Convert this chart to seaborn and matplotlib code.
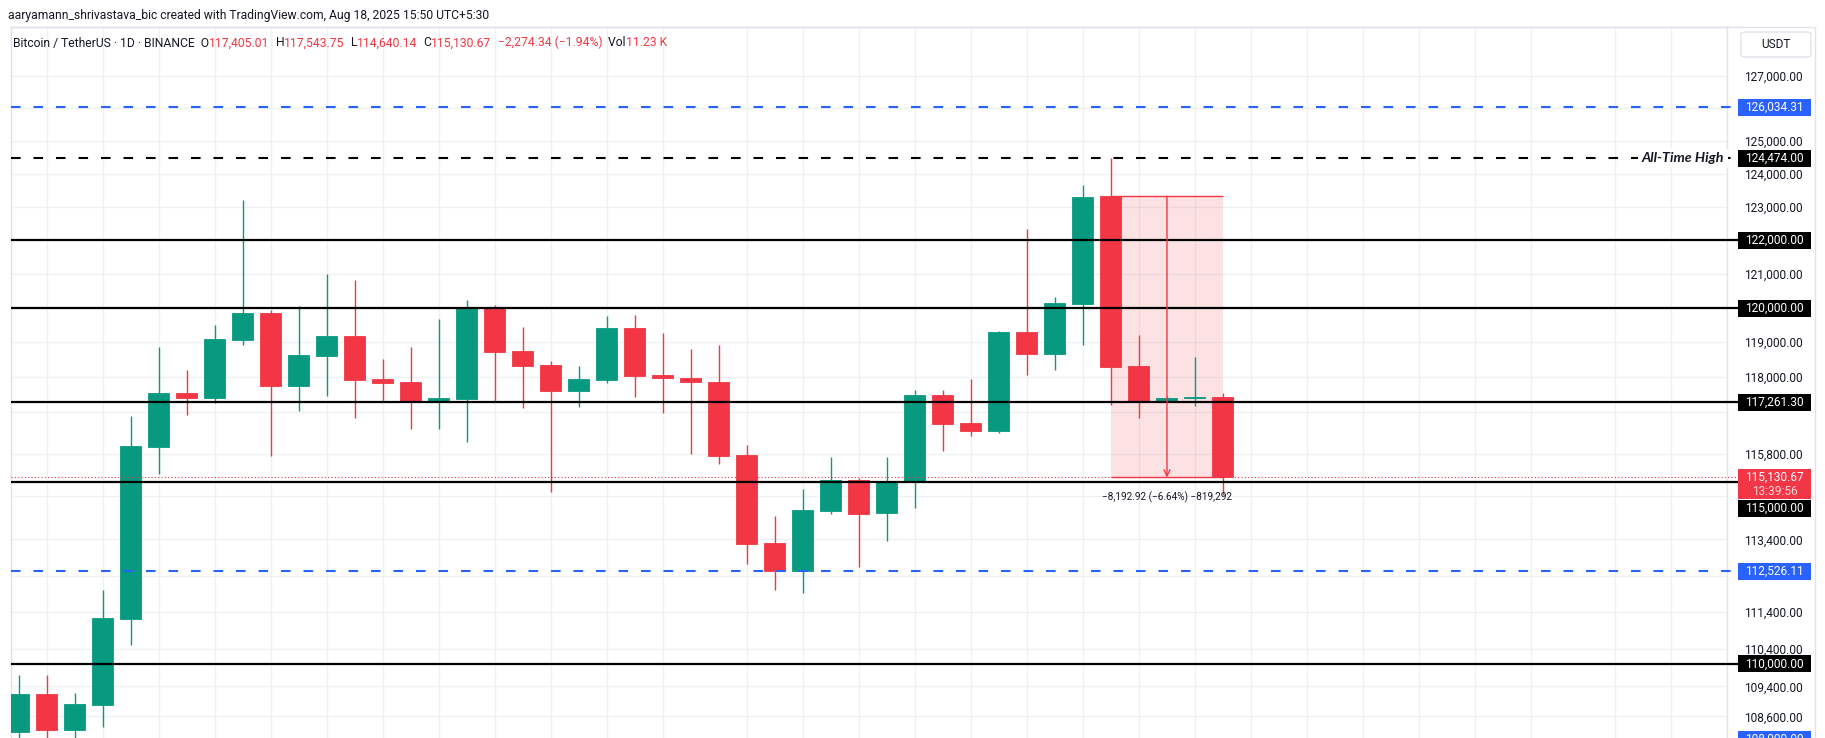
import numpy as np
import pandas as pd
import seaborn as sns
import matplotlib
matplotlib.use("Agg")
import matplotlib.pyplot as plt
import matplotlib.transforms as mtransforms
from matplotlib import font_manager
from matplotlib.patches import FancyBboxPatch, Rectangle
from matplotlib.lines import Line2D
from matplotlib.text import Text
from matplotlib.ticker import FixedLocator, NullLocator, FuncFormatter

# === Daily candles, BTC/USDT (Binance), 44 sessions ending Aug 18, 2025 ===
opens = [108190, 109200, 108240, 108900, 111220, 115990, 117530, 117390, 119070, 119850,
         117730, 118600, 119180, 117940, 117850, 117300, 117360, 120000, 118750, 118340,
         117590, 117910, 119420, 118050, 117960, 117850, 115770, 113300, 112530, 114190,
         115060, 114140, 115000, 117480, 116670, 116450, 119300, 118660, 120120, 123323.59,
         118310, 117300, 117390, 117405.01]
highs = [109700, 109700, 109220, 112000, 116870, 118860, 118200, 119500, 123210, 119940,
         120060, 121000, 120820, 118510, 118860, 119680, 120240, 120090, 119440, 118460,
         118310, 119770, 119800, 119270, 118800, 118920, 116050, 114050, 114810, 115710,
         115120, 115710, 117620, 117620, 117940, 119330, 122340, 120320, 123660, 124474.00,
         119210, 117450, 118570, 117543.75]
lows = [107750, 107550, 107850, 108320, 110510, 115230, 116900, 117250, 118920, 115740,
        117020, 117450, 116820, 117300, 116500, 116500, 116130, 117270, 117100, 114720,
        117130, 117820, 117420, 116960, 115790, 115510, 112720, 112010, 111930, 114110,
        112640, 113360, 114280, 115880, 116300, 116400, 118050, 118200, 118920, 117190,
        116820, 117240, 117160, 114640.14]
closes = [109200, 108240, 108930, 111240, 116020, 117530, 117390, 119100, 119850, 117730,
          118630, 119180, 117910, 117820, 117300, 117390, 120000, 118720, 118310, 117590,
          117940, 119420, 118020, 117960, 117850, 115740, 113270, 112530, 114220, 115060,
          114110, 115000, 117480, 116650, 116450, 119300, 118660, 120150, 123300, 118280,
          117300, 117390, 117405.01, 115130.67]

# === Drawn levels ===
black_levels = [122000.00, 120000.00, 117261.30, 115000.00, 110000.00]
blue_levels = [126034.31, 112526.11, 108000.00]
ath_level = 124474.00
ath_text = "All-Time High"

# === Price scale / grid ===
grid_prices = [127000, 126000, 125000, 124000, 123000, 122000, 121000, 120000, 119000, 118000,
               117000, 115800, 114600, 113400, 112400, 111400, 110400, 109400, 108600]
label_prices = [127000, 125000, 124000, 123000, 121000, 119000, 118000, 115800, 113400,
                111400, 110400, 109400, 108600]
grid_days = [1, 3, 5, 7, 9, 11, 13, 15, 17, 19, 21, 23, 26, 28, 30, 32, 34, 36, 38, 40,
             42, 44, 46, 48, 50, 52, 54, 57, 59]

# === Measure tool (from the ATH day open to the last close) ===
measure_from, measure_to = 39, 43
countdown = "13:39:56"
volume_txt = "11.23 K"
header_txt = "aaryamann_shrivastava_bic created with TradingView.com, Aug 18, 2025 15:50 UTC+5:30"
symbol_txt = "Bitcoin / TetherUS \u00b7 1D \u00b7 BINANCE"

GREEN, RED, BLUE, INK = "#089981", "#F23645", "#2962FF", "#131722"
GRID, BORDER = "#EEF0F4", "#E0E3EB"

df = pd.DataFrame({"open": opens, "high": highs, "low": lows, "close": closes})
df["idx"] = np.arange(len(df))
df["color"] = np.where(df["close"] >= df["open"], GREEN, RED)

sns.set_theme(style="white")
plt.rcParams['font.family'] = ['Roboto', 'DejaVu Sans']
installed = {f.name for f in font_manager.fontManager.ttflist}
narrow = ['Liberation Sans Narrow', 'Roboto'] if 'Liberation Sans Narrow' in installed else ['Roboto', 'DejaVu Sans']

W, H = 1825, 738
fig = plt.figure(figsize=(W / 100, H / 100), dpi=100)
ax = fig.add_axes([10.5 / W, 0, (1727 - 10.5) / W, (H - 27) / H])
ax.set_yscale('log')
ax.set_ylim(108027, 128533)
ax.set_xlim(-0.3, 61.0)

# grid
ax.hlines(grid_prices, 0, 1, transform=ax.get_yaxis_transform(), color=GRID, lw=1, zorder=0)
ax.vlines(grid_days, 0, 1, transform=ax.get_xaxis_transform(), color=GRID, lw=1, zorder=0)

# measure box
m_top, m_bot = df["open"][measure_from], df["close"][measure_to]
ax.fill_between([measure_from, measure_to], m_bot, m_top, color=RED, alpha=0.14, lw=0, zorder=1)
ax.hlines([m_top, m_bot], measure_from, measure_to, color=RED, lw=1, zorder=1.5)
mid = (measure_from + measure_to) / 2
ax.annotate("", xy=(mid, m_bot), xytext=(mid, m_top),
            arrowprops=dict(arrowstyle="->", color=RED, lw=1, mutation_scale=11, shrinkA=0, shrinkB=0),
            zorder=6)
diff = m_bot - m_top
m_txt = f"{diff:,.2f} ({diff / m_top * 100:.2f}%) {diff * 100:,.0f}".replace("-", "\u2212")
ax.annotate(m_txt, xy=(mid, m_bot), xytext=(0, -14), textcoords="offset points",
            ha="center", va="center", fontsize=7.2, color=INK, family=narrow, zorder=6)

# candles
ax.vlines(df["idx"], df["low"], df["high"], color=df["color"], lw=1, zorder=3)
ax.bar(df["idx"], (df["close"] - df["open"]).abs(), bottom=df[["open", "close"]].min(axis=1),
       width=0.75, color=df["color"], edgecolor=df["color"], linewidth=0.6, zorder=4)

# horizontal levels (run into the price scale up to the tags)
ext = 1.0064
ytr = ax.get_yaxis_transform()
ax.hlines(black_levels, 0, ext, transform=ytr, color="black", lw=1.6, zorder=5, clip_on=False)
ax.hlines(blue_levels, 0, ext, transform=ytr, color=BLUE, lw=1.5, zorder=5, clip_on=False,
          linestyles=[(0, (4.6, 6.2))])
ax.hlines([ath_level], 0, ext, transform=ytr, color="black", lw=1.5, zorder=5, clip_on=False,
          linestyles=[(0, (4.6, 6.2))])
ax.hlines([closes[-1]], 0, ext, transform=ytr, color=RED, lw=0.8, zorder=5, clip_on=False,
          linestyles=[(0, (1, 2))])
ax.text(0.9985, ath_level, ath_text, transform=ytr, ha="right", va="center", fontsize=10.3,
        fontweight="bold", fontstyle="italic", family=['Lato', 'DejaVu Sans'], color=INK, zorder=7,
        bbox=dict(boxstyle="square,pad=0.25", fc="white", ec="none"))

# price scale
ax.yaxis.tick_right()
ax.yaxis.set_major_locator(FixedLocator(label_prices))
ax.yaxis.set_minor_locator(NullLocator())
ax.yaxis.set_major_formatter(FuncFormatter(lambda v, p: f"{v:,.2f}"))
ax.tick_params(axis="y", length=0, pad=12.2, labelsize=8.6, labelcolor=INK)
ax.set_xticks([])
for name, sp in ax.spines.items():
    sp.set_color(BORDER)
    sp.set_linewidth(1)
ax.spines["bottom"].set_visible(False)

# price tags: boxes sized in pixels, anchored at the level on the price scale
bt = mtransforms.blended_transform_factory(fig.transFigure, ax.transData)
tag_x = 1774.5 / W


def price_tag(price, bg, lines, top=8.5, bottom=-8.5):
    anchor = mtransforms.ScaledTranslation(tag_x, price, bt)
    fig.add_artist(Rectangle((-36.5, bottom), 73, top - bottom, transform=anchor,
                             fc=bg, ec="none", zorder=5))
    for s, col, dy in lines:
        fig.add_artist(Text(0, dy, s, transform=anchor, ha="center", va="center",
                            color=col, fontsize=8.6, zorder=6))


for lv in blue_levels:
    price_tag(lv, BLUE, [(f"{lv:,.2f}", "white", 0)])
price_tag(ath_level, "black", [(f"{ath_level:,.2f}", "white", 0)])
for lv in black_levels:
    if lv == 115000:
        price_tag(lv, "black", [(f"{lv:,.2f}", "white", -26)], top=-17.5, bottom=-34.5)
    else:
        price_tag(lv, "black", [(f"{lv:,.2f}", "white", 0)])
last = closes[-1]
price_tag(last, RED, [(f"{last:,.2f}", "white", 0), (countdown, "#FDD5D8", -14)],
          top=8.5, bottom=-21.5)

# panel borders and USDT box
fig.add_artist(Line2D([10.5 / W, 1815 / W], [1 - 27 / H] * 2, transform=fig.transFigure, color=BORDER, lw=1))
fig.add_artist(Line2D([1815 / W] * 2, [0, 1 - 27 / H], transform=fig.transFigure, color=BORDER, lw=1))
fig.add_artist(FancyBboxPatch((1741 / W, 1 - 57 / H), 70 / W, 25 / H, transform=fig.transFigure,
                              boxstyle="round,pad=0,rounding_size=0.003", fc="white", ec=BORDER, lw=1))
fig.text(1776 / W, 1 - 45 / H, "USDT", ha="center", va="center", fontsize=8.6, color=INK)

# header lines
fig.text(8 / W, 1 - 15 / H, header_txt, ha="left", va="center", fontsize=8.7, color=INK, family=narrow)
change = closes[-1] - closes[-2]
pieces = [(symbol_txt + "  O", INK), (f"{opens[-1]:,.2f}", RED), ("  H", INK), (f"{highs[-1]:,.2f}", RED),
          ("  L", INK), (f"{lows[-1]:,.2f}", RED), ("  C", INK), (f"{closes[-1]:,.2f}", RED),
          ("  " + f"{change:,.2f} ({change / closes[-2] * 100:.2f}%)".replace("-", "\u2212"), RED),
          ("  Vol", INK), (volume_txt, RED)]
t = fig.text(13 / W, 1 - 43 / H, pieces[0][0], ha="left", va="center", fontsize=8.7, color=INK, family=narrow)
for s, c in pieces[1:]:
    t = ax.annotate(s, xy=(1, 0), xycoords=t, ha="left", va="bottom", fontsize=8.7, color=c,
                    family=narrow, annotation_clip=False)

fig.savefig("out.png", dpi=100)
